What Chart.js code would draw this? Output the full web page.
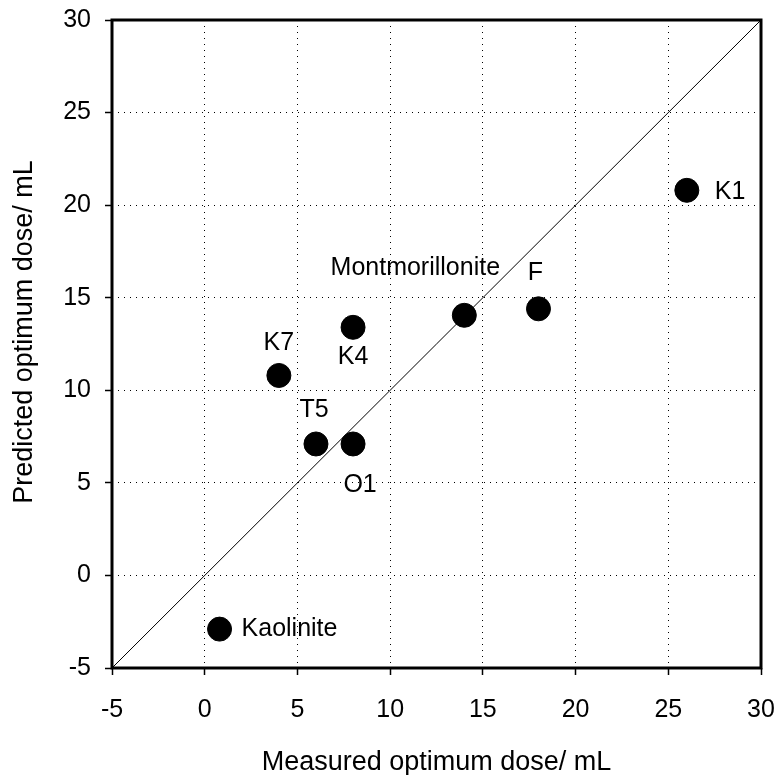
<!DOCTYPE html>
<html>
<head>
<meta charset="utf-8">
<script src="https://cdn.jsdelivr.net/npm/chart.js@4.4.1/dist/chart.umd.min.js"></script>
<style>
  html, body { margin: 0; padding: 0; background: #fff; }
  #wrap { width: 779px; height: 775px; }
</style>
</head>
<body>
<div id="wrap"><canvas id="doseChart" width="779" height="775"></canvas></div>
<script>
// Clay samples: measured vs predicted optimum dose (mL)
const samples = ["Kaolinite", "K7", "T5", "O1", "K4", "Montmorillonite", "F", "K1"];
const measured = [0.8, 4, 6, 8, 8, 14, 18, 26];
const predicted = [-2.9, 10.8, 7.1, 7.1, 13.4, 14.05, 14.4, 20.8];
const axisTicks = [-5, 0, 5, 10, 15, 20, 25, 30];
const axisMin = -5;
const axisMax = 30;
const xTitle = "Measured optimum dose/ mL";
const yTitle = "Predicted optimum dose/ mL";

const FONT = "'Liberation Sans', Arial, sans-serif";

// where each sample name sits relative to its marker (px)
const labelPlacement = {
    "Kaolinite": { dx: 22, dy: 0, align: "left" },
    "K7": { dx: 0, dy: -32, align: "center" },
    "T5": { dx: -2, dy: -34, align: "center" },
    "O1": { dx: 7, dy: 41, align: "center" },
    "K4": { dx: 0, dy: 30, align: "center" },
    "Montmorillonite": { dx: -49, dy: -47, align: "center" },
    "F": { dx: -3, dy: -36, align: "center" },
    "K1": { dx: 28, dy: 2, align: "left" }
};

const pointLabels = {
    id: "pointLabels",
    afterDatasetsDraw(chart) {
        const ctx = chart.ctx;
        const meta = chart.getDatasetMeta(0);
        ctx.save();
        ctx.fillStyle = "#000";
        ctx.font = "25px " + FONT;
        ctx.textBaseline = "middle";
        meta.data.forEach((pt, i) => {
            const p = labelPlacement[samples[i]];
            ctx.textAlign = p.align;
            ctx.fillText(samples[i], pt.x + p.dx, pt.y + p.dy);
        });
        ctx.restore();
    }
};

// heavy frame round the plot area, plus the two axis titles
const frame = {
    id: "frame",
    afterDraw(chart) {
        const a = chart.chartArea;
        const ctx = chart.ctx;
        ctx.save();
        ctx.strokeStyle = "#000";
        ctx.lineWidth = 3;
        ctx.strokeRect(a.left, a.top, a.right - a.left, a.bottom - a.top);

        ctx.fillStyle = "#000";
        ctx.font = "27px " + FONT;
        ctx.textAlign = "center";
        ctx.textBaseline = "alphabetic";
        ctx.fillText(xTitle, (a.left + a.right) / 2, 770);

        ctx.translate(32, 332);
        ctx.rotate(-Math.PI / 2);
        ctx.fillText(yTitle, 0, 0);
        ctx.restore();
    }
};

const gridOpts = {
    color: "#000",
    lineWidth: 1,
    drawTicks: true,
    tickLength: 7,
    tickColor: "#000",
    tickWidth: 1.5,
    tickBorderDash: [1, 0]
};

new Chart(document.getElementById("doseChart"), {
    type: "scatter",
    data: {
        datasets: [
            {
                data: measured.map((x, i) => ({ x: x, y: predicted[i] })),
                backgroundColor: "#000",
                borderColor: "#000",
                borderWidth: 1,
                pointRadius: 12,
                pointHoverRadius: 12
            },
            {
                type: "line",
                data: [{ x: axisMin, y: axisMin }, { x: axisMax, y: axisMax }],
                borderColor: "#000",
                borderWidth: 1,
                pointRadius: 0,
                fill: false
            }
        ]
    },
    options: {
        responsive: false,
        animation: false,
        devicePixelRatio: 1,
        layout: { padding: { top: 20, right: 18, left: 0, bottom: 0 } },
        plugins: {
            legend: { display: false },
            tooltip: { enabled: false }
        },
        scales: {
            x: {
                type: "linear",
                min: axisMin,
                max: axisMax,
                afterBuildTicks: s => { s.ticks = axisTicks.map(v => ({ value: v })); },
                afterFit: s => { s.height = 107; s.paddingLeft = 0; s.paddingRight = 0; },
                grid: gridOpts,
                border: { display: false, dash: [1, 5] },
                ticks: {
                    color: "#000",
                    padding: 20,
                    font: { family: FONT, size: 25 }
                }
            },
            y: {
                type: "linear",
                min: axisMin,
                max: axisMax,
                afterBuildTicks: s => { s.ticks = axisTicks.map(v => ({ value: v })); },
                afterFit: s => { s.width = 112; s.paddingTop = 0; s.paddingBottom = 0; },
                grid: gridOpts,
                border: { display: false, dash: [1, 5] },
                ticks: {
                    color: "#000",
                    padding: 14,
                    font: { family: FONT, size: 25 }
                }
            }
        }
    },
    plugins: [pointLabels, frame]
});
</script>
</body>
</html>
